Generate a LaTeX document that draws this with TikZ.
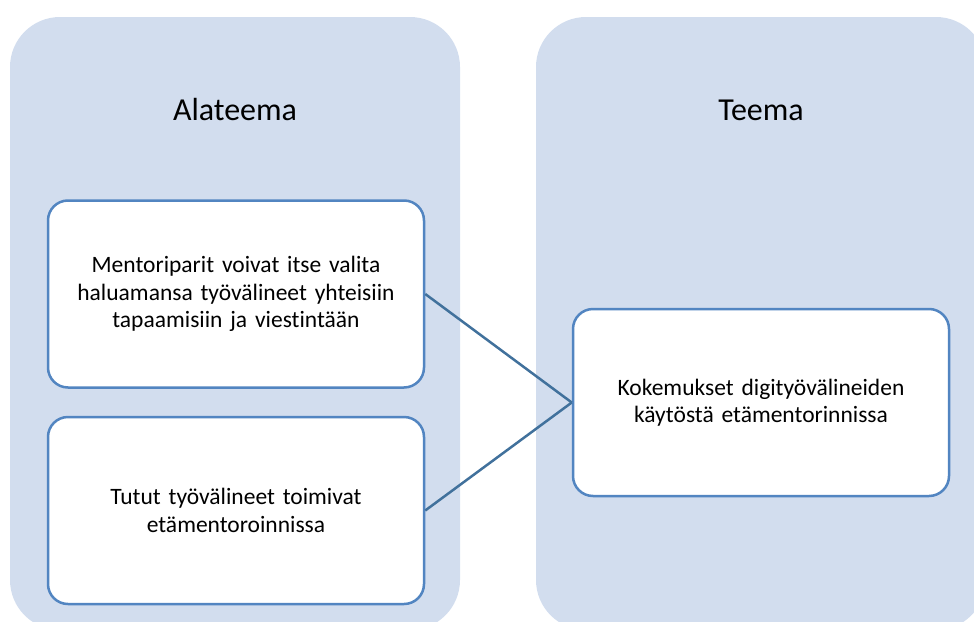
\documentclass[tikz,border=0pt]{standalone}
\usepackage{fontspec}
\setmainfont{Carlito}[Ligatures=NoCommon]
\definecolor{kolumni}{HTML}{D2DDEE}
\definecolor{reuna}{HTML}{5285C1}
\definecolor{viiva}{HTML}{41719C}
\tikzset{
  laatikko/.style={draw=reuna, line width=2.5pt, fill=white, rounded corners=20pt,
    minimum width=376pt, minimum height=187pt, text width=345pt, align=center,
    font=\fontsize{23.5}{27.5}\selectfont},
  otsikko/.style={font=\fontsize{32}{38}\selectfont}
}
\begin{document}
\begin{tikzpicture}[x=1pt,y=-1pt]
\useasboundingbox (0,0) rectangle (974,621);

\fill[kolumni, rounded corners=50pt] (10,17) rectangle (460,630);
\fill[kolumni, rounded corners=50pt] (536,17) rectangle (986,630);

\node[otsikko] (alateema) at (235,110) {Alateema};
\node[otsikko] (teema) at (761,110) {Teema};

\node[laatikko] (mentoriparit) at (236,294) {Mentoriparit voivat itse valita\\haluamansa työvälineet yhteisiin\\tapaamisiin ja viestintään};
\node[laatikko] (tutut) at (236,510.5) {Tutut työvälineet toimivat\\etämentoroinnissa};
\node[laatikko] (kokemukset) at (761,402.5) {Kokemukset digityövälineiden\\käytöstä etämentorinnissa};

\draw[viiva, line width=2.5pt] (mentoriparit.east) -- (kokemukset.west);
\draw[viiva, line width=2.5pt] (tutut.east) -- (kokemukset.west);
\end{tikzpicture}
\end{document}
